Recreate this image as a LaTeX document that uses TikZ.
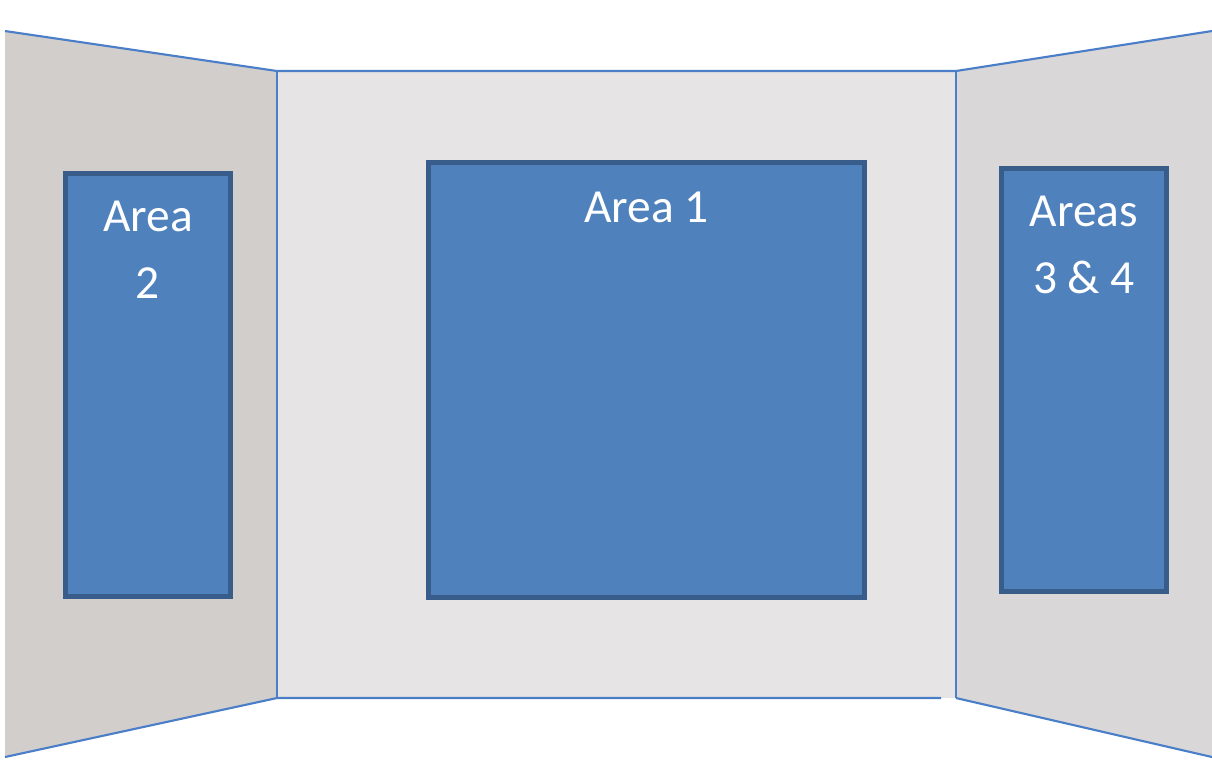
\documentclass[tikz,border=0pt]{standalone}
\usepackage{fontspec}
\setmainfont{Carlito}
\usetikzlibrary{positioning}
\definecolor{wallleft} {HTML}{D2CECB}
\definecolor{wallmid}  {HTML}{E6E4E4}
\definecolor{wallright}{HTML}{D9D7D7}
\definecolor{edge}     {HTML}{4A7EC8}
\definecolor{areafill} {HTML}{4F81BD}
\definecolor{areadraw} {HTML}{385D8A}
\tikzset{
  wall/.style     ={draw=edge, line width=0.6pt},
  area/.style     ={draw=areadraw, fill=areafill, line width=1.4pt,
                    inner sep=0pt},
  areatext/.style ={text=white, align=center, inner sep=0pt,
                    font=\fontsize{13.5}{19.3}\selectfont},
}

\begin{document}
\begin{tikzpicture}[x=0.01cm, y=-0.01cm]
  \useasboundingbox (0,0) rectangle (1212,759);
  \fill[white] (0,0) rectangle (1212,759);
  % corners of the three-sided board
  \coordinate (ltop) at (5,31);
  \coordinate (lbot) at (5,757);
  \coordinate (mtl)  at (277,71);
  \coordinate (mbl)  at (277,698);
  \coordinate (mtr)  at (956,71);
  \coordinate (mbr)  at (956,698);
  \coordinate (mend) at (941,698);
  \coordinate (rtop) at (1212,31);
  \coordinate (rbot) at (1212,757);
  \fill[wallleft]  (ltop) -- (mtl) -- (mbl) -- (lbot) -- cycle;
  \fill[wallmid]   (mtl) rectangle (mbr);
  \fill[wallright] (mtr) -- (rtop) -- (rbot) -- (mbr) -- cycle;
  \draw[wall] (ltop) -- (mtl) -- (mtr) -- (rtop);
  \draw[wall] (lbot) -- (mbl) -- (mend);
  \draw[wall] (mbr) -- (rbot);
  \draw[wall] (mtl) -- (mbl);
  \draw[wall] (mtr) -- (mbr);

  % areas
  \node[area, minimum width=1.65cm, minimum height=4.23cm] (area2)  at (148,385) {};
  \node[area, minimum width=4.36cm, minimum height=4.35cm] (area1)  at (646.5,380) {};
  \node[area, minimum width=1.65cm, minimum height=4.23cm] (area34) at (1084,380) {};

  \node[areatext, anchor=north] (t2)  at ([yshift=-0.29cm]area2.north)  {Area\\2};
  \node[areatext, anchor=north] (t1)  at ([yshift=-0.31cm]area1.north)  {Area 1};
  \node[areatext, anchor=north] (t34) at ([yshift=-0.29cm]area34.north) {Areas\\3 \& 4};
\end{tikzpicture}
\end{document}
